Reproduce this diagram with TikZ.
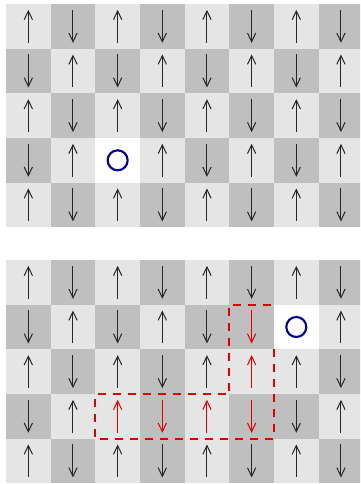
\documentclass[tikz,border=0pt]{standalone}
\usetikzlibrary{arrows.meta}
\definecolor{lightcell}{RGB}{229,229,229}
\definecolor{darkcell}{RGB}{191,191,191}
\definecolor{holeblue}{RGB}{0,0,153}
\definecolor{flipred}{RGB}{225,0,0}
\tikzset{
  spin/.style={line width=0.75pt, -{Straight Barb[length=6.5pt,width=6.2pt]}},
  holemark/.style={circle, draw=holeblue, line width=1.6pt, minimum size=15pt, inner sep=0pt},
  stringbox/.style={draw=flipred, line width=1.5pt, dash pattern=on 6pt off 5.25pt},
}
% #1 = top y of grid, #2 = hole row, #3 = hole column, #4 = 1 if the string of flipped spins is shown
\newcommand\spingrid[4]{%
  \foreach \r in {0,...,4}{%
    \foreach \c in {0,...,7}{%
      \pgfmathsetmacro\xl{6+\c*44.66}%
      \pgfmathsetmacro\yt{#1+\r*44.66}%
      \pgfmathsetmacro\xc{\xl+22.33}%
      \pgfmathsetmacro\yc{\yt+22.33}%
      \pgfmathtruncatemacro\ishole{((\r==#2)&&(\c==#3))}%
      \pgfmathtruncatemacro\fl{#4*((((\r==3)&&(\c>=2))&&(\c<=5))||(((\c==5)&&(\r>=1))&&(\r<=2)))}%
      \pgfmathtruncatemacro\st{mod(\r+\c+\fl,2)}%
      \ifnum\fl=1 \def\acol{flipred}\else\def\acol{black!85}\fi
      \ifnum\ishole=1
        \fill[white] (\xl,\yt) rectangle ++(44.66,44.66);
      \else
        \ifnum\st=0
          \fill[lightcell] (\xl,\yt) rectangle ++(44.66,44.66);
          \draw[spin, draw=\acol] ({\xc},{\yc+16.5}) -- ({\xc},{\yc-16.5});
        \else
          \fill[darkcell] (\xl,\yt) rectangle ++(44.66,44.66);
          \draw[spin, draw=\acol] ({\xc},{\yc-16.5}) -- ({\xc},{\yc+16.5});
        \fi
      \fi
    }%
  }%
}
\begin{document}
\begin{tikzpicture}[x=0.75pt, y=-0.75pt]
\useasboundingbox (0,0) rectangle (360,484);
\clip (0,0) rectangle (360,484);
\fill[white] (0,0) rectangle (360,484);
% top lattice: hole at row 3, column 2
\spingrid{4}{3}{2}{0}
\node[holemark] (holeA) at (117.65,160.31) {};
% bottom lattice: hole moved to row 1, column 6, leaving a string of flipped spins
\spingrid{260}{1}{6}{1}
\node[holemark] (holeB) at (296.29,326.99) {};
% dashed outline of the flipped string
\coordinate (s1) at (273.96,349.32);
\coordinate (s2) at (273.96,438.64);
\coordinate (s3) at (95.32,438.64);
\coordinate (s4) at (95.32,393.98);
\coordinate (s5) at (229.30,393.98);
\coordinate (s6) at (229.30,304.66);
\coordinate (s7) at (273.96,304.66);
\draw[stringbox] (s1) -- (s2) -- (s3) -- (s4) -- (s5) -- (s6) -- (s7);
\end{tikzpicture}
\end{document}
